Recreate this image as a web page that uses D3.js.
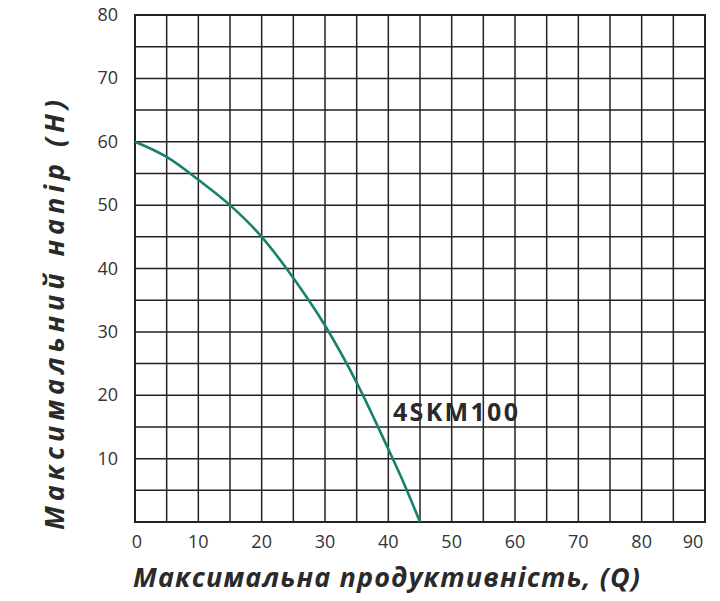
<!DOCTYPE html>
<html><head><meta charset="utf-8">
<script src="https://cdn.jsdelivr.net/npm/d3@7"></script>
<style>body{margin:0;background:#fff}</style></head>
<body><svg id="c" width="720" height="601"></svg>
<script>
const flow = [0, 5, 10, 15, 20, 25, 30, 35, 40, 42.5, 45];
const head = [60, 57.6, 54, 50, 45, 38.5, 31, 22, 11.5, 6, 0];
const xTicks = [0,10,20,30,40,50,60,70,80,90];
const yTicks = [10,20,30,40,50,60,70,80];
const gridStep = [0,5,10,15,20,25,30,35,40,45,50,55,60,65,70,75,80,85,90];
const seriesName = "4SKM100";

const svg = d3.select("#c");
const x = d3.scaleLinear().domain([0,90]).range([135,705]);
const y = d3.scaleLinear().domain([0,80]).range([522,15]);
const g = svg.append("g");
gridStep.forEach(v=>g.append("line").attr("x1",x(v)).attr("x2",x(v)).attr("y1",y(0)).attr("y2",y(80)).attr("stroke","#222").attr("stroke-width",1.5));
gridStep.filter(v=>v<=80).forEach(v=>g.append("line").attr("x1",x(0)).attr("x2",x(90)).attr("y1",y(v)).attr("y2",y(v)).attr("stroke","#222").attr("stroke-width",1.5));
g.append("rect").attr("x",x(0)).attr("y",y(80)).attr("width",x(90)-x(0)).attr("height",y(0)-y(80)).attr("fill","none").attr("stroke","#222").attr("stroke-width",2);

const font="'Open Sans', sans-serif";
xTicks.forEach(v=>svg.append("text").attr("x",x(v)+(v==90?-12:(v==0?2:0))).attr("y",548).attr("text-anchor","middle").attr("font-family",font).attr("font-size",18).attr("fill","#333").text(v));
yTicks.forEach(v=>svg.append("text").attr("x",118).attr("y",y(v)+6).attr("text-anchor","end").attr("font-family",font).attr("font-size",18).attr("fill","#333").text(v));

const line = d3.line().x((d,i)=>x(flow[i])).y(d=>y(d)).curve(d3.curveMonotoneX);
svg.append("path").attr("d",line(head)).attr("fill","none").attr("stroke","#17806f").attr("stroke-width",2.6);
svg.append("text").attr("x",393).attr("y",y(16)).attr("font-family",font).attr("font-weight","bold").attr("font-size",25).attr("textLength",125).attr("fill","#2a2a2a").text(seriesName);

svg.append("text").attr("x",133).attr("y",587).attr("font-family",font).attr("font-weight","bold").attr("font-style","italic").attr("font-size",27).attr("textLength",507).attr("fill","#2a2a2a").text("Максимальна продуктивність, (Q)");
svg.append("text").attr("transform","translate(64,530) rotate(-90)").attr("font-family",font).attr("font-weight","bold").attr("font-style","italic").attr("font-size",27).attr("textLength",430).attr("fill","#2a2a2a").text("Максимальний напір (H)");
</script></body></html>
